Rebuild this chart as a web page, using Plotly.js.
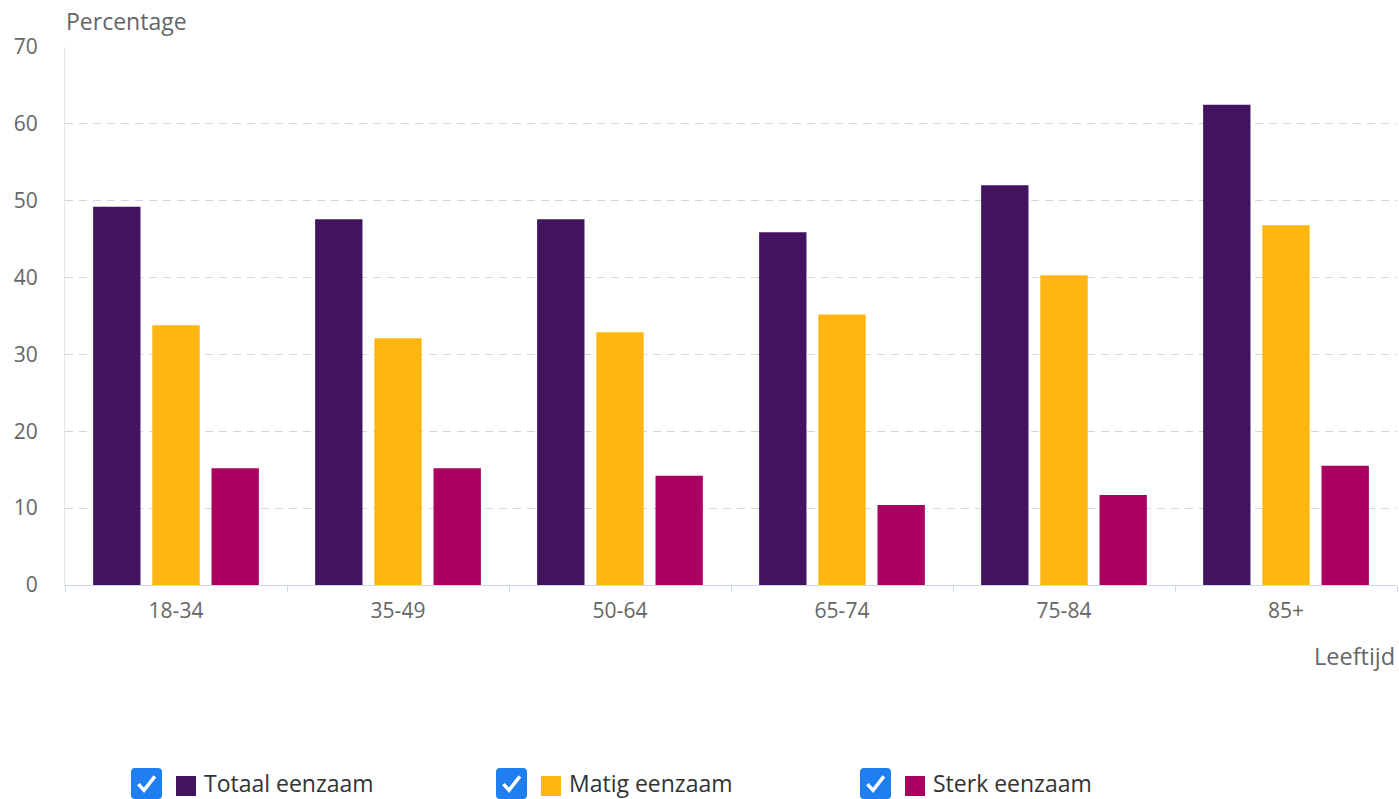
<!DOCTYPE html>
<html>
<head>
<meta charset="utf-8">
<script src="https://cdn.plot.ly/plotly-3.0.1.min.js"></script>
<style>html,body{margin:0;padding:0;background:#fff;}#chart{width:1399px;height:799px;}</style>
</head>
<body>
<div id="chart"></div>
<script>
// Data
const categories = ["18-34", "35-49", "50-64", "65-74", "75-84", "85+"];
const seriesNames = ["Totaal eenzaam", "Matig eenzaam", "Sterk eenzaam"];
const totaal = [49.2, 47.6, 47.6, 45.9, 52.0, 62.5];
const matig = [33.8, 32.1, 32.9, 35.2, 40.3, 46.8];
const sterk = [15.2, 15.2, 14.2, 10.4, 11.7, 15.5];
const yTicks = [0, 10, 20, 30, 40, 50, 60, 70];

const colors = ["#42145f", "#ffb612", "#a90061"];
const FONT = "'Open Sans', sans-serif";

const values = [totaal, matig, sterk];
const traces = values.map((v, i) => ({
  type: "bar",
  x: categories,
  y: v,
  name: seriesNames[i],
  marker: {color: colors[i], line: {width: 0}},
  hoverinfo: "x+y+name"
}));

// plot area geometry
const L = 65, T = 47, W = 1332, H = 538;
const px = x => (x - L) / W;
const py = y => (T + H - y) / H;

// absolute-pixel anchored shapes
const ax = -L / W, ay = (T + H) / H;
function pxRect(x0, y0, x1, y1, color) {
  return {type: "rect", xref: "paper", yref: "paper", xsizemode: "pixel", ysizemode: "pixel",
    xanchor: ax, yanchor: ay, x0: x0, x1: x1, y0: -y0, y1: -y1,
    fillcolor: color, line: {width: 0}, layer: "above"};
}
function checkbox(x0, y0, size) {
  const r = 4;
  const x1 = x0 + size, y1 = y0 + size;
  const P = (x, y) => x + "," + (-y);
  const box = "M" + P(x0 + r, y0) + " L" + P(x1 - r, y0) + " Q" + P(x1, y0) + " " + P(x1, y0 + r) +
    " L" + P(x1, y1 - r) + " Q" + P(x1, y1) + " " + P(x1 - r, y1) +
    " L" + P(x0 + r, y1) + " Q" + P(x0, y1) + " " + P(x0, y1 - r) +
    " L" + P(x0, y0 + r) + " Q" + P(x0, y0) + " " + P(x0 + r, y0) + " Z";
  const s = size;
  const chk = "M" + P(x0 + 0.24 * s, y0 + 0.52 * s) + " L" + P(x0 + 0.42 * s, y0 + 0.72 * s) +
    " L" + P(x0 + 0.77 * s, y0 + 0.27 * s);
  return [
    {type: "path", xref: "paper", yref: "paper", xsizemode: "pixel", ysizemode: "pixel",
      xanchor: ax, yanchor: ay, path: box, fillcolor: "#1f7ff0", line: {width: 0}, layer: "above"},
    {type: "path", xref: "paper", yref: "paper", xsizemode: "pixel", ysizemode: "pixel",
      xanchor: ax, yanchor: ay, path: chk, fillcolor: "rgba(0,0,0,0)",
      line: {color: "#ffffff", width: 3.5}, layer: "above"}
  ];
}

const legendX = [131, 496, 860];
const shapes = [];
const annotations = [];
legendX.forEach((x, i) => {
  shapes.push(...checkbox(x, 768, 31));
  shapes.push(pxRect(x + 45, 776, x + 65, 796, colors[i]));
  annotations.push({xref: "paper", yref: "paper", x: px(x + 71), y: py(783),
    xanchor: "left", yanchor: "middle", showarrow: false, text: seriesNames[i],
    font: {family: FONT, size: 23, color: "#333333"}});
});

annotations.push({xref: "paper", yref: "paper", x: px(64), y: py(21), xanchor: "left", yanchor: "middle",
  showarrow: false, text: "Percentage", font: {family: FONT, size: 23, color: "#666666"}});
annotations.push({xref: "paper", yref: "paper", x: px(1397), y: py(656), xanchor: "right", yanchor: "middle",
  showarrow: false, text: "Leeftijd", font: {family: FONT, size: 23.5, color: "#666666"}});

const layout = {
  width: 1399, height: 799,
  margin: {l: L, r: 1399 - L - W, t: T, b: 799 - T - H, pad: 0},
  paper_bgcolor: "#ffffff", plot_bgcolor: "#ffffff",
  showlegend: false,
  barmode: "group",
  bargap: 0.2,
  bargroupgap: 0.2,
  font: {family: FONT, color: "#666666"},
  xaxis: {
    type: "category",
    showgrid: false,
    showline: true, linecolor: "#ccd6eb", linewidth: 1,
    ticks: "outside", tickson: "boundaries", ticklen: 6, tickcolor: "#ccd6eb", tickwidth: 1,
    ticklabelstandoff: 7,
    tickfont: {family: FONT, size: 21, color: "#666666"},
    zeroline: false, fixedrange: true
  },
  yaxis: {
    range: [0, 70],
    tickvals: yTicks,
    showgrid: true, gridcolor: "#d6d6d6", gridwidth: 1, griddash: "8px,6px",
    showline: true, linecolor: "#dfe5ee", linewidth: 1,
    ticks: "", ticklabelstandoff: 22,
    tickfont: {family: FONT, size: 21, color: "#666666"},
    zeroline: false, fixedrange: true
  },
  shapes: shapes,
  annotations: annotations
};

Plotly.newPlot("chart", traces, layout, {displayModeBar: false, staticPlot: false});
</script>
</body>
</html>
